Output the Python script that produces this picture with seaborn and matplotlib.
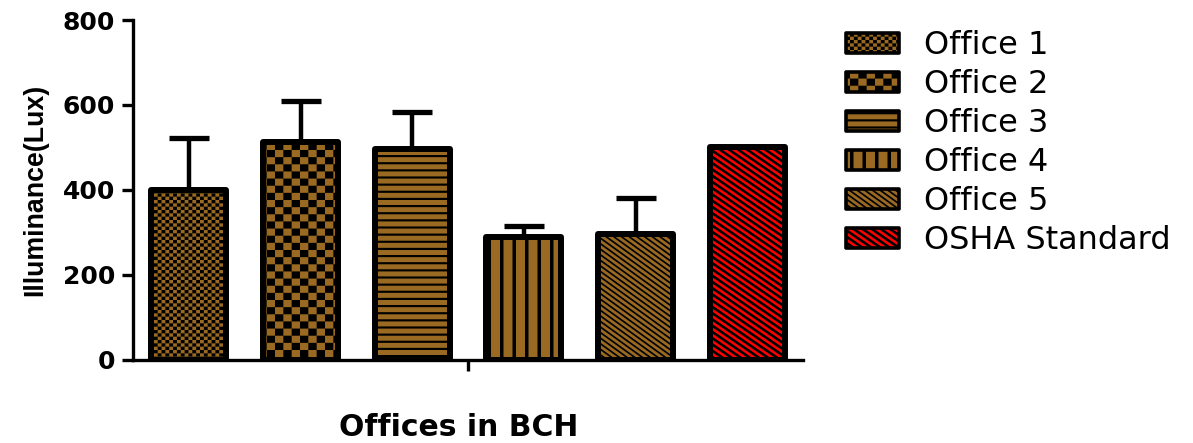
import numpy as np
import pandas as pd
import matplotlib
matplotlib.use("Agg")
import matplotlib.pyplot as plt
import matplotlib.hatch as mhatch
from matplotlib.path import Path
import seaborn as sns

# ---- data -------------------------------------------------------------
offices = ["Office 1", "Office 2", "Office 3", "Office 4", "Office 5", "OSHA Standard"]
illuminance = [400, 512, 497, 289, 295, 500]
upper_error = [121, 97, 87, 26, 86, 0]
bar_colors = ["#9a6a22", "#9a6a22", "#9a6a22", "#9a6a22", "#9a6a22", "#ff0000"]
hatch_codes = [".", "o", "-", "|", "/", "\\"]
y_ticks = [0, 200, 400, 600, 800]


# ---- tile patterns used as hatches (filled polygons in a unit tile) ----
def _rect(x0, y0, x1, y1):
    return [(x0, y0), (x1, y0), (x1, y1), (x0, y1)]


def checker(ncols, nrows):
    return [_rect(i / ncols, j / nrows, (i + 1) / ncols, (j + 1) / nrows)
            for i in range(ncols) for j in range(nrows) if (i + j) % 2 == 0]


def bands_h(n, frac):
    return [_rect(-0.1, k / n, 1.1, (k + frac) / n) for k in range(n)]


def bands_v(n, frac):
    return [_rect(k / n, -0.1, (k + frac) / n, 1.1) for k in range(n)]


def bands_diag(n, m, frac):
    # stripes between n*x + m*y = c and n*x + m*y = c + frac
    polys = []
    for c in range(-2, n + m + 2):
        pts = [((c - m * y) / n, y) for y in (-0.5, 1.5)]
        pts += [((c + frac - m * y) / n, y) for y in (1.5, -0.5)]
        polys.append(pts)
    return polys


TILES = {
    ".": checker(26, 30),
    "o": checker(12, 14),
    "-": bands_h(14, 0.3),
    "|": bands_v(8, 0.28),
    "/": bands_diag(13, 18, 0.38),
    "\\": bands_diag(11, 16, 0.5),
}


class TilePattern(mhatch.HatchPatternBase):
    def __init__(self, hatch, density):
        self.polys = TILES.get(hatch, [])
        self.num_vertices = sum(len(p) + 1 for p in self.polys)

    def set_vertices_and_codes(self, vertices, codes):
        i = 0
        for p in self.polys:
            n = len(p)
            vertices[i:i + n] = p
            vertices[i + n] = p[0]
            codes[i] = Path.MOVETO
            codes[i + 1:i + n] = Path.LINETO
            codes[i + n] = Path.CLOSEPOLY
            i += n + 1


mhatch._hatch_types = [TilePattern]

# ---- style ------------------------------------------------------------
sns.set_style("ticks")
plt.rcParams["font.family"] = ["DejaVu Sans"]
plt.rcParams["hatch.linewidth"] = 0.01
for key in ("text.color", "axes.labelcolor", "xtick.color", "ytick.color",
            "axes.edgecolor"):
    plt.rcParams[key] = "black"

df = pd.DataFrame({"office": offices, "lux": illuminance})

fig = plt.figure(figsize=(11.93, 4.43), dpi=100)
ax = fig.add_axes([133 / 1193, 83.5 / 443, 670 / 1193, 339.5 / 443])

sns.barplot(data=df, x="office", y="lux", hue="office", palette=bar_colors,
            order=offices, hue_order=offices, saturation=1, width=0.672,
            edgecolor="black", linewidth=4.3, errorbar=None, legend=False, ax=ax)

bars = list(ax.patches)
for bar, h in zip(bars, hatch_codes):
    bar.set_hatch(h)
    bar.set_joinstyle("round")

# upper-only error bars
err = np.array(upper_error, dtype=float)
has_err = err > 0
xpos = np.arange(len(offices))
ax.errorbar(xpos[has_err], np.array(illuminance)[has_err],
            yerr=[np.zeros(has_err.sum()), err[has_err]],
            fmt="none", ecolor="black", elinewidth=3.2, capsize=14.5,
            capthick=3.8, zorder=0.5)

ax.set_xlim(-0.5, 5.5)
ax.set_ylim(0, 800)
ax.set_yticks(y_ticks)
ax.set_xticks([2.5])
ax.set_xticklabels([""])

sns.despine(ax=ax)
for side in ("left", "bottom"):
    ax.spines[side].set_linewidth(2.4)
ax.tick_params(axis="both", direction="out", length=8, width=2.4,
               labelsize=18, pad=5)
for lab in ax.get_yticklabels():
    lab.set_fontweight("bold")

ax.set_ylabel("Illuminance(Lux)", fontsize=19.3, fontweight="bold",
              family=["Liberation Sans", "DejaVu Sans"])
ax.yaxis.set_label_coords(-0.127, 0.5)
ax.set_xlabel("Offices in BCH", fontsize=21.5, fontweight="bold")
ax.xaxis.set_label_coords(0.4866, -0.158)

leg = ax.legend(handles=bars, labels=offices, loc="upper left",
                bbox_to_anchor=(846 / 1193, 1 - 30 / 443),
                bbox_transform=fig.transFigure, frameon=False,
                fontsize=23, borderpad=0, borderaxespad=0,
                handlelength=1.65, handleheight=0.6, handletextpad=0.8,
                labelspacing=0.25)
for p in leg.get_patches():
    p.set_linewidth(2.6)
    p.set_joinstyle("round")

fig.savefig("out.png", dpi=100)
